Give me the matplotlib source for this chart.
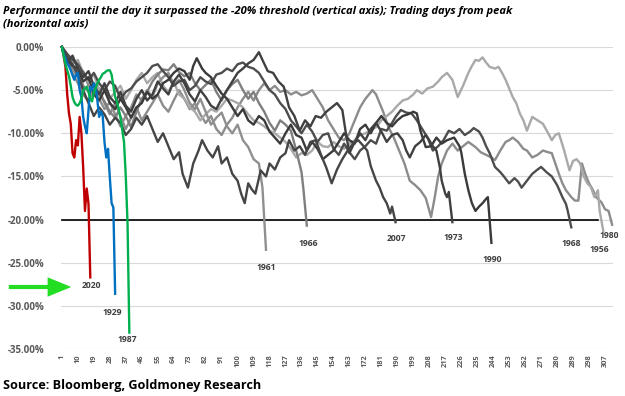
import matplotlib
matplotlib.use("Agg")
import matplotlib.pyplot as plt

plt.rcParams['font.family'] = ['Open Sans', 'DejaVu Sans']

# ---------------- data (trading day, % from peak) ----------------
s2020 = [(1,0),(2,-1.0),(3,-2.3),(4,-5.5),(5,-7.7),(6,-8.9),(7,-12.3),(8,-12.8),(9,-10.8),(10,-11.4),
         (11,-8.1),(12,-10.0),(13,-14.0),(14,-19.0),(15,-16.4),(16,-18.2),(17,-26.7)]
s1929 = [(1,0),(2,-0.8),(3,-1.3),(4,-1.9),(5,-2.2),(6,-2.7),(7,-3.3),(8,-3.8),(9,-3.2),(10,-3.0),
         (11,-5.0),(12,-5.8),(13,-8.1),(14,-9.2),(15,-10.0),(16,-7.3),(17,-4.6),(18,-5.0),(19,-4.2),(20,-4.6),
         (21,-6.2),(22,-8.1),(23,-7.5),(24,-8.0),(25,-11.0),(26,-12.8),(27,-11.8),(28,-15.1),(29,-18.1),(30,-18.6),(31,-28.6)]
s1987 = [(1,0),(2,-1.0),(3,-2.0),(4,-2.7),(5,-3.4),(6,-4.5),(7,-5.8),(8,-6.4),(9,-6.7),(10,-6.8),
         (11,-6.5),(12,-6.0),(13,-5.0),(14,-4.8),(15,-4.6),(16,-5.2),(17,-6.0),(18,-6.3),(19,-5.2),(20,-4.8),
         (21,-4.2),(22,-3.8),(23,-3.5),(24,-3.1),(25,-3.0),(26,-2.8),(27,-2.7),(28,-2.7),(29,-3.2),(30,-4.5),
         (31,-5.8),(32,-6.3),(33,-7.2),(34,-8.2),(35,-9.6),(36,-11.0),(37,-15.0),(38,-20.5),(39,-33.1)]
s1961 = [(1,0),(4,-1.5),(7,-3.0),(10,-4.2),(13,-5.5),(16,-6.3),(19,-5.0),(22,-6.0),(25,-7.2),(28,-6.4),
         (31,-7.8),(34,-9.2),(37,-8.0),(40,-7.0),(43,-5.5),(46,-6.2),(49,-5.0),(52,-5.8),(55,-4.2),(58,-3.5),
         (61,-3.0),(64,-4.3),(67,-3.8),(70,-5.0),(73,-6.5),(76,-7.2),(79,-6.0),(82,-7.5),(85,-9.0),(88,-8.2),
         (91,-7.6),(94,-9.2),(97,-10.0),(100,-9.0),(103,-10.8),(106,-11.6),(109,-13.0),(112,-13.5),(114,-16.3),(116,-23.5)]
s1966 = [(1,0),(4,-1.0),(7,-2.2),(10,-3.0),(13,-4.5),(16,-5.2),(19,-4.2),(22,-5.5),(25,-6.3),(28,-7.5),
         (31,-8.2),(34,-7.0),(37,-8.0),(40,-9.3),(43,-7.5),(46,-6.0),(49,-5.2),(52,-4.0),(55,-3.2),(58,-2.6),
         (61,-2.7),(64,-2.0),(67,-2.9),(70,-3.4),(73,-3.0),(76,-4.2),(79,-5.0),(82,-4.4),(85,-3.8),(88,-5.2),
         (91,-6.2),(94,-5.0),(97,-4.3),(100,-3.8),(103,-5.0),(106,-6.0),(109,-5.2),(112,-6.5),(115,-7.5),(118,-8.8),
         (121,-9.7),(124,-8.5),(127,-9.0),(130,-9.7),(132,-11.2),(134,-12.8),(136,-14.5),(137,-16.3),(139,-20.7)]
s2007 = [(1,0),(4,-1.2),(7,-2.0),(10,-3.2),(13,-5.0),(16,-6.5),(19,-8.0),(22,-7.0),(25,-7.8),(28,-9.0),
         (31,-8.2),(34,-8.8),(37,-10.2),(40,-9.5),(43,-8.2),(46,-9.0),(49,-8.0),(52,-9.5),(55,-11.0),(58,-10.0),
         (61,-11.5),(64,-13.0),(67,-12.2),(69,-14.7),(72,-16.3),(75,-13.5),(78,-12.0),(80,-10.8),(83,-12.0),(86,-12.8),
         (89,-11.5),(91,-13.5),(94,-12.8),(97,-14.7),(100,-15.5),(102,-17.0),(104,-18.1),(106,-15.8),(108,-16.5),(110,-17.0),
         (113,-14.3),(116,-15.0),(118,-13.5),(121,-14.2),(124,-12.8),(127,-12.3),(129,-10.8),(132,-12.0),(135,-11.5),(138,-12.5),
         (141,-11.0),(144,-10.8),(147,-12.5),(150,-14.0),(153,-15.8),(156,-14.2),(159,-13.0),(162,-12.0),(165,-11.2),(168,-10.8),
         (171,-11.5),(173,-12.0),(175,-13.8),(178,-15.5),(180,-16.3),(182,-17.4),(184,-18.1),(186,-19.3),(187,-18.5),(189,-20.3)]
s1973 = [(1,0),(4,-1.8),(7,-1.0),(10,-2.5),(13,-3.5),(16,-2.8),(19,-4.5),(22,-5.5),(25,-4.2),(28,-5.8),
         (31,-6.5),(34,-5.2),(37,-6.8),(40,-7.5),(43,-6.0),(46,-5.0),(49,-6.2),(52,-5.5),(55,-4.0),(58,-4.8),
         (61,-5.5),(64,-4.0),(67,-3.2),(70,-4.2),(73,-5.5),(76,-6.3),(79,-5.0),(82,-5.8),(85,-6.8),(88,-7.2),
         (91,-6.0),(94,-5.0),(97,-4.0),(100,-3.0),(103,-2.5),(106,-1.9),(109,-1.5),(112,-0.6),(114,-1.5),(117,-2.8),
         (120,-3.0),(123,-4.0),(126,-4.6),(129,-7.0),(132,-8.0),(135,-9.7),(138,-8.5),(141,-9.2),(144,-8.0),(147,-8.2),
         (150,-7.5),(153,-7.0),(156,-6.5),(159,-7.3),(161,-10.0),(163,-12.3),(166,-11.0),(169,-10.0),(172,-10.8),(175,-9.5),
         (178,-8.8),(181,-9.8),(184,-11.0),(187,-10.2),(190,-10.0),(193,-10.8),(195,-12.0),(197,-12.8),(200,-11.5),(203,-11.0),
         (206,-10.2),(208,-10.8),(210,-11.5),(212,-12.0),(214,-14.0),(215,-15.5),(217,-17.0),(218,-17.4),(219,-16.8),(221,-20.3)]
s1990 = [(1,0),(4,-1.5),(7,-2.2),(10,-2.5),(13,-4.0),(16,-3.5),(19,-5.5),(22,-6.2),(25,-5.0),(28,-6.5),
         (31,-7.2),(34,-6.0),(37,-7.0),(40,-8.2),(43,-7.0),(46,-6.5),(49,-5.2),(52,-6.0),(55,-5.5),(58,-4.2),
         (61,-3.8),(64,-3.0),(67,-2.5),(70,-2.8),(73,-3.8),(75,-2.2),(77,-1.3),(80,-2.5),(82,-3.0),(85,-3.5),
         (88,-4.5),(91,-5.4),(94,-6.0),(97,-7.0),(100,-8.0),(103,-7.2),(106,-8.5),(109,-9.0),(112,-8.0),(115,-8.5),
         (118,-9.8),(121,-10.5),(124,-11.2),(127,-10.0),(130,-9.0),(133,-10.2),(136,-10.5),(139,-12.0),(142,-11.0),(145,-11.8),
         (148,-13.0),(151,-12.5),(154,-12.0),(157,-11.0),(160,-10.0),(163,-10.8),(166,-11.2),(169,-9.5),(172,-9.0),(175,-10.0),
         (178,-8.8),(181,-8.0),(184,-8.8),(187,-9.2),(190,-8.5),(193,-8.0),(196,-7.8),(199,-7.5),(201,-7.7),(203,-9.7),
         (206,-11.6),(209,-11.5),(212,-10.5),(215,-11.2),(218,-10.8),(222,-10.5),(225,-11.5),(226,-12.2),(228,-14.7),(230,-16.6),
         (232,-18.1),(234,-19.0),(236,-18.5),(238,-18.1),(240,-17.6),(241,-17.4),(243,-22.7)]
s1968 = [(1,0),(4,-0.8),(7,-1.5),(10,-2.0),(13,-3.0),(16,-3.8),(19,-3.0),(22,-4.2),(25,-5.0),(28,-4.0),
         (31,-4.5),(34,-6.0),(37,-5.2),(40,-4.8),(43,-4.0),(46,-3.5),(49,-3.0),(52,-2.2),(55,-2.0),(58,-2.8),
         (61,-3.5),(64,-4.5),(67,-4.0),(70,-3.8),(73,-5.0),(76,-4.5),(79,-3.5),(82,-4.0),(85,-4.3),(88,-3.2),
         (91,-3.0),(94,-2.5),(97,-2.8),(100,-2.0),(103,-1.8),(106,-2.3),(109,-2.5),(112,-3.0),(115,-4.0),(118,-5.0),
         (121,-5.5),(124,-6.5),(127,-7.2),(130,-8.5),(133,-9.2),(136,-10.0),(139,-9.0),(142,-9.8),(145,-11.0),(148,-10.2),
         (151,-10.0),(154,-11.8),(157,-12.5),(160,-11.2),(163,-12.2),(166,-13.0),(169,-12.0),(172,-11.5),(175,-10.8),(178,-11.2),
         (181,-9.5),(184,-9.7),(187,-8.8),(189,-8.1),(192,-7.3),(195,-7.6),(198,-7.7),(201,-8.5),(204,-9.5),(207,-10.5),
         (210,-12.0),(213,-11.5),(216,-10.8),(219,-9.7),(222,-10.0),(225,-9.5),(228,-10.2),(231,-9.8),(233,-9.4),(236,-9.8),
         (238,-10.5),(240,-11.5),(242,-12.3),(245,-13.9),(248,-14.5),(250,-15.0),(253,-15.8),(256,-15.2),(258,-15.6),(260,-16.3),
         (263,-15.5),(266,-14.7),(269,-14.2),(271,-13.9),(274,-14.5),(277,-15.0),(280,-16.0),(283,-17.4),(285,-18.2),(286,-19.0),(288,-20.9)]
s1956 = [(1,0),(4,-1.0),(7,-2.0),(10,-1.5),(13,-3.0),(16,-4.0),(19,-3.2),(22,-5.0),(25,-4.5),(28,-6.0),
         (31,-5.2),(34,-4.5),(37,-6.0),(40,-5.0),(43,-3.8),(46,-3.0),(49,-4.2),(52,-3.5),(55,-3.0),(58,-4.5),
         (61,-5.2),(64,-4.0),(67,-5.5),(70,-6.0),(73,-7.0),(76,-7.5),(79,-8.5),(82,-7.8),(85,-7.2),(88,-7.5),
         (91,-6.8),(94,-6.0),(97,-6.2),(100,-6.5),(103,-7.0),(106,-7.8),(109,-8.5),(112,-8.8),(115,-9.2),(118,-9.7),
         (121,-10.0),(124,-10.5),(127,-11.0),(130,-11.8),(133,-12.8),(136,-12.3),(139,-12.5),(142,-12.0),(145,-11.0),(148,-11.5),
         (151,-11.6),(154,-11.0),(157,-11.5),(160,-11.8),(163,-11.2),(166,-10.8),(169,-10.2),(172,-10.0),(175,-9.6),(178,-9.3),
         (181,-8.5),(184,-8.0),(187,-7.5),(190,-6.8),(193,-6.2),(196,-6.0),(199,-5.5),(201,-5.0),(204,-5.4),(207,-4.8),
         (210,-4.6),(213,-4.0),(215,-3.5),(218,-3.0),(221,-3.8),(224,-5.8),(227,-4.5),(230,-3.0),(232,-2.2),(234,-1.5),
         (236,-1.6),(238,-1.2),(240,-1.8),(242,-2.3),(245,-2.5),(247,-2.3),(249,-3.0),(251,-3.8),(253,-4.8),(255,-5.8),
         (257,-6.5),(259,-7.7),(261,-8.5),(263,-9.7),(266,-8.1),(269,-8.5),(272,-8.9),(275,-10.0),(277,-10.8),(279,-10.2),
         (281,-10.0),(284,-12.0),(287,-14.3),(289,-13.2),(291,-13.0),(293,-13.5),(295,-15.0),(297,-15.8),(299,-16.2),(301,-17.4),
         (303,-16.6),(304,-19.0),(306,-21.3)]
s1980 = [(1,0),(4,-1.5),(7,-2.5),(10,-3.5),(13,-2.8),(16,-4.5),(19,-5.5),(22,-4.8),(25,-6.5),(28,-7.8),
         (31,-6.5),(34,-8.0),(37,-9.5),(40,-8.2),(43,-7.0),(46,-8.5),(49,-7.5),(52,-6.5),(55,-5.5),(58,-6.8),
         (61,-7.5),(64,-6.2),(67,-5.0),(70,-6.0),(73,-7.2),(76,-6.5),(79,-7.8),(82,-8.8),(85,-8.0),(88,-9.5),
         (91,-10.2),(94,-9.0),(97,-8.2),(100,-7.0),(103,-6.0),(106,-5.2),(109,-6.2),(112,-5.0),(115,-4.2),(118,-5.0),
         (121,-4.5),(124,-5.2),(127,-5.0),(130,-5.5),(133,-5.2),(136,-5.6),(139,-5.4),(142,-5.0),(145,-6.0),(148,-7.0),
         (151,-8.5),(154,-9.5),(157,-10.5),(160,-10.8),(163,-10.0),(166,-8.5),(169,-7.0),(172,-6.0),(174,-5.5),(176,-5.0),
         (178,-5.5),(180,-6.5),(182,-7.5),(185,-9.3),(188,-10.5),(191,-12.0),(194,-13.5),(197,-15.5),(200,-16.0),(203,-16.6),
         (206,-17.5),(209,-19.7),(211,-17.5),(213,-15.0),(215,-13.5),(218,-12.0),(221,-11.2),(224,-12.0),(227,-11.5),(230,-11.0),
         (234,-11.6),(237,-12.2),(240,-12.5),(243,-12.8),(245,-13.1),(248,-12.0),(251,-11.0),(253,-10.8),(255,-10.5),(258,-11.0),
         (261,-11.8),(263,-12.0),(266,-12.8),(269,-12.5),(272,-12.0),(275,-12.2),(277,-12.3),(279,-13.5),(281,-14.7),(283,-15.8),
         (285,-16.6),(288,-17.4),(290,-17.8),(292,-17.8),(294,-13.5),(296,-14.8),(298,-15.8),(300,-16.5),(302,-17.4),(305,-18.0),
         (307,-18.8),(309,-19.0),(311,-20.6)]

threshold_value = -20
threshold_days = [1, 303]
n_days = 311
x_ticks = list(range(1, 308, 9))
y_ticks = [0, -5, -10, -15, -20, -25, -30, -35]

title = ("Performance until the day it surpassed the -20% threshold (vertical axis); Trading days from peak\n"
         "(horizontal axis)")
source = "Source: Bloomberg, Goldmoney Research"

# (label, data, colour, label offset in pixels)
grey_series = [
    ("1980", s1980, "#8c8c8c", (-3, -11)),
    ("1956", s1956, "#a9a9a9", (-4, -19)),
    ("1961", s1961, "#8f8f8f", (0, -18)),
    ("1966", s1966, "#7f7f7f", (1, -18)),
    ("1968", s1968, "#4d4d4d", (0, -16)),
    ("1990", s1990, "#3a3a3a", (1, -17)),
    ("1973", s1973, "#404040", (1, -15)),
    ("2007", s2007, "#454545", (1, -16)),
]
colour_series = [
    ("2020", s2020, "#c00000", (1, -8)),
    ("1929", s1929, "#0070c0", (-3, -19)),
    ("1987", s1987, "#00b050", (-2, -7)),
]

# ---------------- figure ----------------
fig = plt.figure(figsize=(6.25, 3.96), dpi=100)
ax = fig.add_axes([61/625, 1-349/396, 552/625, 302/396])

ax.set_xlim(0.5, n_days + 0.5)
ax.set_ylim(-35, 0)
ax.set_yticks(y_ticks)
ax.set_yticklabels([f"{v:.2f}%" for v in y_ticks])
ax.set_xticks(x_ticks)
ax.set_xticklabels([str(t) for t in x_ticks], rotation=90, va='top')
ax.grid(axis='y', color='#d9d9d9', lw=0.8)
ax.set_axisbelow(True)
for sp in ax.spines.values():
    sp.set_visible(False)
ax.tick_params(axis='both', length=0)
ax.tick_params(axis='y', pad=12, labelsize=7, labelcolor='#595959')
ax.tick_params(axis='x', pad=4, labelsize=5.3, labelcolor='#595959')
for lab in ax.get_yticklabels() + ax.get_xticklabels():
    lab.set_fontweight('bold')

ax.plot(threshold_days, [threshold_value]*2, color='black', lw=1.2, zorder=3)

def draw(series):
    for name, data, col, off in series:
        d = [p[0] for p in data]
        v = [p[1] for p in data]
        ax.plot(d, v, color=col, lw=1.7, clip_on=False, zorder=4, solid_joinstyle='round')
        ax.annotate(name, xy=(d[-1], v[-1]), xytext=off, textcoords='offset pixels',
                    ha='center', va='center', fontsize=6.2, fontweight='bold', color='#404040')

draw(grey_series)
draw(colour_series)

# green arrow pointing at 2020
fig.add_artist(matplotlib.patches.FancyArrowPatch(
    (6/625, 1-287/396), (74/625, 1-287/396), transform=fig.transFigure,
    arrowstyle='simple,head_length=1.7,head_width=1.4,tail_width=0.3',
    mutation_scale=10, color='#22dd22', lw=0))

fig.text(3/625, 1-6/396, title, ha='left', va='top', fontsize=8, fontstyle='italic',
         fontweight='bold', color='black', linespacing=1.25)
fig.text(3/625, 1-385/396, source, ha='left', va='center', fontsize=9.1,
         fontweight='bold', color='black')

fig.savefig("out.png", dpi=100)
